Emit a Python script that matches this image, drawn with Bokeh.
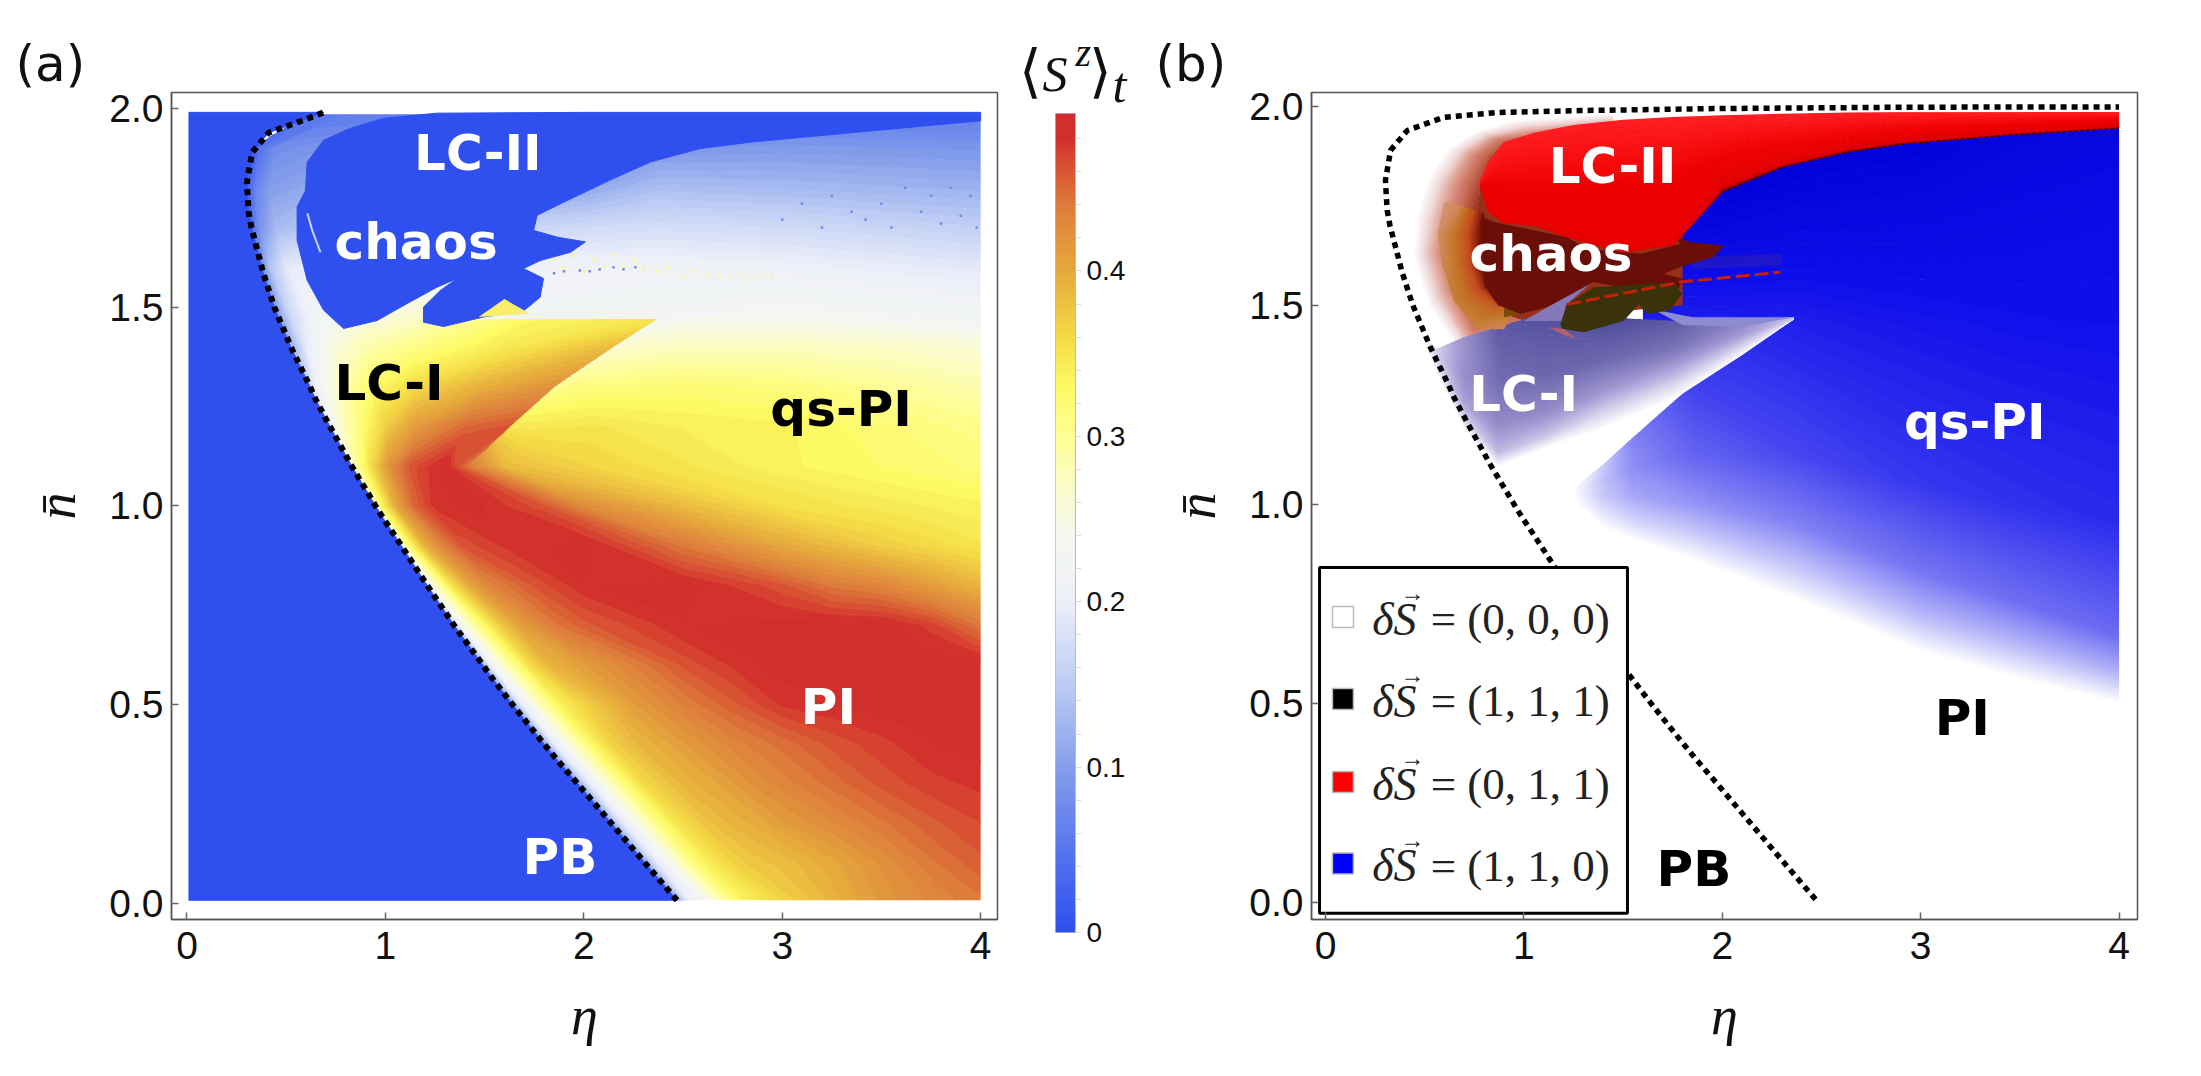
import numpy as np

from bokeh.embed import file_html
from bokeh.layouts import column, row
from bokeh.models import FixedTicker, Label, LinearAxis, LinearColorMapper, NumeralTickFormatter, Range1d
from bokeh.plotting import figure
from bokeh.resources import INLINE

eta_ticks = [0, 1, 2, 3, 4]
n_ticks = [0.0, 0.5, 1.0, 1.5, 2.0]
cbar_ticks = [0, 0.1, 0.2, 0.3, 0.4]
cbar_minor = [0.02, 0.04, 0.06, 0.08, 0.12, 0.14, 0.16, 0.18, 0.22, 0.24, 0.26, 0.28, 0.32, 0.34, 0.36, 0.38, 0.42, 0.44, 0.46, 0.48]

# dotted boundary of the PB phase
curve_n = [0.007, 0.1, 0.2, 0.3, 0.356, 0.4, 0.5, 0.567, 0.6, 0.7, 0.8, 0.8585, 0.9, 0.967, 1.0, 1.1, 1.2, 1.269, 1.3, 1.394, 1.5, 1.583, 1.7, 1.738, 1.813, 1.889, 1.939, 1.972]
curve_eta = [2.47, 2.31, 2.14, 1.97, 1.873, 1.8, 1.64, 1.537, 1.49, 1.345, 1.21, 1.134, 1.08, 0.991, 0.95, 0.83, 0.72, 0.647, 0.62, 0.529, 0.44, 0.386, 0.325, 0.311, 0.302, 0.328, 0.412, 0.596]
curve_top_eta = [0.865, 1.284, 1.956, 2.8, 3.4, 4.0]
curve_top_n = [1.984, 1.989, 1.994, 1.997, 1.998, 1.998]

# panel (a), PI and qs-PI region below n=1.1
pi_n = [0.007, 0.1, 0.2, 0.3, 0.4, 0.5, 0.6, 0.7, 0.8, 0.9, 1.0, 1.1]
pi_eta = [
    [2.47, 2.52, 2.60, 2.70, 2.80, 2.9, 3.0, 3.1, 3.25, 3.4, 3.6, 3.8, 4.0],
    [2.31, 2.36, 2.44, 2.54, 2.64, 2.75, 2.85, 2.95, 3.05, 3.25, 3.5, 3.75, 4.0],
    [2.14, 2.19, 2.27, 2.37, 2.47, 2.6, 2.75, 2.9, 3.0, 3.25, 3.5, 3.75, 4.0],
    [1.97, 2.02, 2.10, 2.20, 2.30, 2.5, 2.7, 2.85, 3.0, 3.25, 3.5, 3.75, 4.0],
    [1.80, 1.85, 1.93, 2.03, 2.13, 2.25, 2.5, 2.75, 3.0, 3.25, 3.5, 3.75, 4.0],
    [1.64, 1.69, 1.77, 1.87, 1.97, 2.25, 2.5, 2.75, 3.0, 3.25, 3.5, 3.75, 4.0],
    [1.49, 1.54, 1.62, 1.72, 1.82, 2.0, 2.5, 2.75, 3.0, 3.25, 3.5, 3.75, 4.0],
    [1.345, 1.39, 1.47, 1.57, 1.67, 1.85, 2.0, 2.5, 3.0, 3.25, 3.5, 3.75, 4.0],
    [1.21, 1.26, 1.33, 1.42, 1.52, 1.75, 2.0, 2.5, 3.0, 3.25, 3.5, 3.75, 4.0],
    [1.08, 1.12, 1.19, 1.28, 1.38, 1.6, 2.0, 2.5, 3.0, 3.25, 3.5, 3.75, 4.0],
    [0.95, 0.99, 1.05, 1.14, 1.24, 1.44, 1.8, 2.0, 2.5, 3.0, 3.5, 3.75, 4.0],
    [0.83, 0.87, 0.93, 1.02, 1.12, 1.3, 1.42, 1.6, 2.0, 2.5, 3.0, 3.5, 4.0],
]
pi_z = [
    [0.10, 0.19, 0.23, 0.29, 0.335, 0.35, 0.365, 0.375, 0.39, 0.405, 0.42, 0.43, 0.44],
    [0.10, 0.18, 0.24, 0.31, 0.345, 0.365, 0.375, 0.38, 0.385, 0.40, 0.42, 0.44, 0.455],
    [0.10, 0.18, 0.245, 0.31, 0.35, 0.375, 0.39, 0.40, 0.41, 0.425, 0.44, 0.455, 0.465],
    [0.10, 0.18, 0.25, 0.315, 0.36, 0.39, 0.405, 0.42, 0.43, 0.445, 0.46, 0.47, 0.475],
    [0.10, 0.19, 0.26, 0.325, 0.365, 0.385, 0.41, 0.43, 0.445, 0.46, 0.47, 0.48, 0.485],
    [0.10, 0.20, 0.27, 0.335, 0.36, 0.41, 0.435, 0.455, 0.475, 0.48, 0.485, 0.485, 0.485],
    [0.12, 0.22, 0.29, 0.355, 0.39, 0.41, 0.46, 0.475, 0.485, 0.485, 0.485, 0.485, 0.485],
    [0.15, 0.24, 0.31, 0.37, 0.405, 0.44, 0.455, 0.48, 0.485, 0.485, 0.485, 0.47, 0.44],
    [0.20, 0.28, 0.35, 0.40, 0.43, 0.46, 0.48, 0.485, 0.46, 0.44, 0.43, 0.41, 0.39],
    [0.25, 0.32, 0.39, 0.43, 0.46, 0.475, 0.485, 0.44, 0.40, 0.385, 0.37, 0.36, 0.35],
    [0.28, 0.34, 0.40, 0.45, 0.475, 0.485, 0.46, 0.425, 0.385, 0.355, 0.345, 0.34, 0.335],
    [0.27, 0.31, 0.36, 0.42, 0.46, 0.485, 0.44, 0.385, 0.365, 0.35, 0.335, 0.325, 0.315],
]

# panel (a), right of the wedge edge
qs_n = [1.1, 1.2, 1.3, 1.4, 1.47]
qs_eta = [
    [1.42, 1.6, 2.0, 2.5, 3.0, 3.5, 4.0],
    [1.63, 1.75, 2.05, 2.5, 3.0, 3.5, 4.0],
    [1.855, 1.93, 2.1, 2.5, 3.0, 3.5, 4.0],
    [2.15, 2.2, 2.3, 2.5, 3.0, 3.5, 4.0],
    [2.37, 2.42, 2.5, 2.7, 3.0, 3.5, 4.0],
]
qs_z = [
    [0.44, 0.385, 0.365, 0.35, 0.335, 0.325, 0.315],
    [0.345, 0.345, 0.35, 0.34, 0.335, 0.32, 0.305],
    [0.30, 0.31, 0.315, 0.32, 0.315, 0.30, 0.285],
    [0.26, 0.265, 0.27, 0.275, 0.275, 0.27, 0.26],
    [0.23, 0.235, 0.24, 0.24, 0.24, 0.235, 0.225],
]

# panel (a), LC-I wedge
lc1_n = [1.1, 1.2, 1.3, 1.4, 1.47]
lc1_eta = [
    [0.83, 0.87, 0.93, 1.02, 1.12, 1.3, 1.42],
    [0.72, 0.78, 0.88, 1.0, 1.15, 1.4, 1.63],
    [0.62, 0.68, 0.8, 0.95, 1.15, 1.5, 1.855],
    [0.53, 0.6, 0.72, 0.9, 1.15, 1.6, 2.15],
    [0.465, 0.53, 0.65, 0.85, 1.15, 1.7, 2.37],
]
lc1_z = [
    [0.27, 0.31, 0.36, 0.42, 0.46, 0.485, 0.44],
    [0.22, 0.27, 0.32, 0.37, 0.41, 0.45, 0.46],
    [0.17, 0.23, 0.29, 0.33, 0.36, 0.395, 0.42],
    [0.12, 0.19, 0.25, 0.285, 0.31, 0.345, 0.385],
    [0.10, 0.17, 0.22, 0.25, 0.27, 0.33, 0.35],
]

# panel (a), above the wedge
top_n = [1.47, 1.6, 1.7, 1.8, 1.9, 1.985]
top_eta = [
    [0.465, 0.53, 0.65, 0.85, 1.15, 1.7, 2.37, 3.0, 4.0],
    [0.365, 0.42, 0.5, 0.7, 1.3, 2.0, 2.37, 3.0, 4.0],
    [0.32, 0.37, 0.45, 0.65, 1.3, 2.0, 2.37, 3.0, 4.0],
    [0.30, 0.35, 0.42, 0.6, 1.3, 2.0, 2.37, 3.0, 4.0],
    [0.33, 0.37, 0.45, 0.65, 1.3, 2.0, 2.37, 3.0, 4.0],
    [0.6, 0.7, 0.8, 1.0, 1.3, 2.0, 2.37, 3.0, 4.0],
]
top_z = [
    [0.10, 0.17, 0.22, 0.25, 0.27, 0.22, 0.23, 0.24, 0.225],
    [0.06, 0.14, 0.19, 0.21, 0.21, 0.21, 0.21, 0.205, 0.19],
    [0.03, 0.09, 0.13, 0.15, 0.15, 0.17, 0.175, 0.17, 0.155],
    [0.02, 0.07, 0.10, 0.11, 0.11, 0.11, 0.135, 0.13, 0.12],
    [0.01, 0.05, 0.08, 0.09, 0.09, 0.09, 0.09, 0.095, 0.09],
    [0.06, 0.06, 0.06, 0.06, 0.06, 0.06, 0.06, 0.06, 0.06],
]

# panel (a), blue LC-II and chaos area
chaos_eta = [0.606, 0.689, 0.824, 0.99, 1.26, 2.0, 3.0, 4.0, 4.0, 2.84, 2.587, 2.335, 2.13, 1.916, 1.765, 1.747, 1.866, 2.008, 1.933, 1.78, 1.696, 1.797, 1.78, 1.696, 1.494, 1.293, 1.192, 1.192, 1.277, 1.362, 1.26, 1.11, 0.958, 0.789, 0.689, 0.606, 0.555, 0.555, 0.597]
chaos_n = [1.865, 1.92, 1.95, 1.975, 1.988, 1.99, 1.99, 1.99, 1.969, 1.915, 1.899, 1.865, 1.819, 1.768, 1.731, 1.693, 1.676, 1.664, 1.638, 1.617, 1.597, 1.572, 1.525, 1.49, 1.475, 1.451, 1.462, 1.5, 1.542, 1.572, 1.55, 1.509, 1.466, 1.446, 1.492, 1.567, 1.668, 1.752, 1.793]
yellow_tri_eta = [1.47, 1.6, 1.73]
yellow_tri_n = [1.475, 1.52, 1.483]
chaos_arc_eta = [0.607, 0.631, 0.673]
chaos_arc_n = [1.736, 1.693, 1.638]
speck_y_eta = [1.85, 1.9, 1.95, 2.0, 2.05, 2.1, 2.15, 2.2, 2.25, 2.3, 2.37, 2.42, 2.5, 2.55, 2.62, 2.68, 2.74, 2.78, 2.82, 2.86, 2.9, 2.95]
speck_y_n = [1.62, 1.6, 1.63, 1.59, 1.62, 1.6, 1.63, 1.6, 1.62, 1.6, 1.59, 1.6, 1.58, 1.59, 1.58, 1.58, 1.575, 1.58, 1.57, 1.575, 1.58, 1.58]
speck_b_eta = [1.85, 1.9, 1.98, 2.03, 2.08, 2.15, 2.2, 2.26, 3.0, 3.1, 3.2, 3.25, 3.35, 3.42, 3.5, 3.55, 3.62, 3.7, 3.75, 3.8, 3.85, 3.9, 3.95, 3.98]
speck_b_n = [1.585, 1.59, 1.592, 1.59, 1.595, 1.6, 1.595, 1.6, 1.72, 1.76, 1.7, 1.78, 1.74, 1.72, 1.76, 1.7, 1.8, 1.74, 1.78, 1.71, 1.8, 1.73, 1.78, 1.7]

# panel (b), blue weight columns
blue_eta = [1.25, 1.40, 1.55, 1.85, 2.37, 3.0, 3.5, 4.0]
blue_n = [
    [1.00, 1.01, 1.02, 1.03, 1.04],
    [0.94, 0.98, 1.02, 1.06, 1.10],
    [0.91, 0.96, 1.02, 1.09, 1.168],
    [0.86, 0.93, 1.0, 1.12, 1.30],
    [0.76, 0.85, 0.95, 1.12, 1.467],
    [0.63, 0.72, 0.83, 1.05, 1.467],
    [0.56, 0.65, 0.75, 1.0, 1.467],
    [0.50, 0.58, 0.67, 0.95, 1.467],
]
blue_w = [
    [0, 0, 0, 0, 0],
    [0, 0.12, 0.22, 0.25, 0.2],
    [0, 0.18, 0.35, 0.45, 0.5],
    [0, 0.22, 0.42, 0.62, 0.78],
    [0, 0.25, 0.5, 0.75, 0.93],
    [0, 0.28, 0.55, 0.82, 0.97],
    [0, 0.3, 0.58, 0.85, 0.99],
    [0, 0.32, 0.6, 0.87, 1.0],
]
blue2_eta = [1.6, 1.75, 2.0, 2.37, 3.0, 3.5, 4.0]
blue2_n = [
    [1.46, 1.5, 1.55],
    [1.46, 1.6, 1.72],
    [1.46, 1.62, 1.79],
    [1.46, 1.65, 1.87],
    [1.46, 1.7, 1.93],
    [1.46, 1.7, 1.95],
    [1.46, 1.7, 1.96],
]
blue2_w = [
    [0.93, 1.0, 1.05],
    [0.93, 1.03, 1.15],
    [0.93, 1.05, 1.18],
    [0.93, 1.05, 1.18],
    [0.97, 1.07, 1.17],
    [0.99, 1.05, 1.12],
    [1.0, 1.03, 1.1],
]

# panel (b), LC-I gradient columns
lc1b_eta = [0.5, 0.56, 0.7, 0.87, 1.1, 1.4, 1.772, 2.1, 2.36]
lc1b_n = [
    [1.40, 1.405, 1.41, 1.415, 1.42],
    [1.33, 1.34, 1.36, 1.38, 1.39],
    [1.19, 1.21, 1.26, 1.32, 1.42],
    [1.095, 1.13, 1.2, 1.3, 1.445],
    [1.14, 1.17, 1.23, 1.32, 1.48],
    [1.19, 1.23, 1.29, 1.36, 1.47],
    [1.269, 1.30, 1.34, 1.39, 1.46],
    [1.375, 1.39, 1.41, 1.43, 1.46],
    [1.466, 1.466, 1.467, 1.468, 1.47],
]
lc1b_w = [
    [0, 0, 0, 0, 0],
    [0, 0.08, 0.2, 0.25, 0.25],
    [0, 0.2, 0.5, 0.62, 0.6],
    [0, 0.35, 0.65, 0.85, 1.0],
    [0, 0.3, 0.65, 0.9, 1.05],
    [0, 0.22, 0.6, 0.9, 1.1],
    [0, 0.18, 0.45, 0.8, 1.0],
    [0, 0.15, 0.35, 0.55, 0.7],
    [0, 0.1, 0.2, 0.3, 0.3],
]

# panel (b), red LC-II columns
red_eta = [0.78, 0.82, 0.9, 1.05, 1.25, 1.5, 1.75, 2.0, 2.3, 2.63, 2.9, 3.5, 4.0]
red_n = [
    [1.80, 1.80, 1.80, 1.81],
    [1.735, 1.75, 1.80, 1.86],
    [1.705, 1.72, 1.79, 1.91],
    [1.70, 1.71, 1.79, 1.933],
    [1.665, 1.69, 1.79, 1.953],
    [1.632, 1.66, 1.80, 1.966],
    [1.65, 1.67, 1.82, 1.973],
    [1.785, 1.80, 1.87, 1.977],
    [1.847, 1.855, 1.90, 1.981],
    [1.885, 1.893, 1.925, 1.984],
    [1.905, 1.912, 1.94, 1.985],
    [1.93, 1.935, 1.955, 1.985],
    [1.945, 1.95, 1.965, 1.985],
]
red_w = [
    [0.6, 0.6, 0.7, 0.9],
    [0.6, 0.65, 0.7, 1.0],
    [0.6, 0.65, 0.7, 1.0],
    [0.6, 0.65, 0.7, 1.0],
    [0.55, 0.65, 0.7, 1.0],
    [0.55, 0.65, 0.7, 1.0],
    [0.55, 0.65, 0.7, 1.0],
    [0.1, 0.5, 0.7, 1.0],
    [0.1, 0.5, 0.7, 1.0],
    [0.1, 0.5, 0.7, 1.0],
    [0.1, 0.5, 0.7, 1.0],
    [0.1, 0.5, 0.7, 1.0],
    [0.1, 0.5, 0.7, 1.0],
]
red_edge_eta = [2.0, 2.3, 2.63, 2.9, 3.5, 4.0]
red_edge_n = [1.785, 1.847, 1.885, 1.905, 1.93, 1.945]

# panel (b), pale halo between curve and chaos, outer to inner per station
halo_eta = [
    [0.98, 0.98, 0.98, 0.98, 0.98],
    [0.70, 0.73, 0.755, 0.778, 0.80],
    [0.52, 0.58, 0.63, 0.676, 0.72],
    [0.445, 0.52, 0.585, 0.644, 0.70],
    [0.46, 0.55, 0.625, 0.694, 0.76],
    [0.51, 0.59, 0.66, 0.72, 0.78],
    [0.61, 0.676, 0.73, 0.78, 0.83],
    [0.75, 0.795, 0.83, 0.867, 0.90],
    [0.95, 0.98, 1.005, 1.028, 1.05],
    [1.45, 1.45, 1.45, 1.45, 1.45],
]
halo_n = [
    [1.38, 1.416, 1.446, 1.474, 1.50],
    [1.37, 1.409, 1.44, 1.47, 1.50],
    [1.50, 1.524, 1.544, 1.562, 1.58],
    [1.62, 1.629, 1.637, 1.643, 1.65],
    [1.72, 1.72, 1.72, 1.72, 1.72],
    [1.81, 1.807, 1.805, 1.802, 1.80],
    [1.89, 1.884, 1.879, 1.874, 1.87],
    [1.935, 1.928, 1.921, 1.916, 1.91],
    [1.965, 1.954, 1.945, 1.937, 1.93],
    [1.98, 1.975, 1.97, 1.965, 1.96],
]
halo_w = [
    [0, 0.4, 0.6, 0.75, 0.85],
    [0, 0.45, 0.7, 0.85, 1.0],
    [0, 0.35, 0.6, 0.8, 1.0],
    [0, 0.35, 0.6, 0.8, 1.0],
    [0, 0.35, 0.6, 0.8, 1.0],
    [0, 0.3, 0.55, 0.75, 0.9],
    [0, 0.25, 0.5, 0.7, 0.85],
    [0, 0.2, 0.4, 0.6, 0.75],
    [0, 0.15, 0.3, 0.45, 0.6],
    [0, 0.1, 0.2, 0.3, 0.4],
]

# panel (b), orange arcs left of the dark chaos area
arc_eta = [
    [0.60, 0.68, 0.74, 0.80],
    [0.565, 0.65, 0.72, 0.79],
    [0.59, 0.66, 0.73, 0.79],
    [0.65, 0.71, 0.77, 0.83],
    [0.76, 0.80, 0.85, 0.90],
    [0.90, 0.93, 0.96, 1.0],
]
arc_n = [
    [1.76, 1.75, 1.74, 1.73],
    [1.68, 1.68, 1.68, 1.68],
    [1.60, 1.60, 1.60, 1.60],
    [1.51, 1.525, 1.54, 1.55],
    [1.44, 1.47, 1.50, 1.51],
    [1.44, 1.47, 1.49, 1.50],
]
arc_w = [
    [0, 0.5, 1.8, 3],
    [0.2, 1, 2, 3],
    [0.5, 1, 2, 3],
    [0.8, 1.2, 2, 3],
    [0.6, 1, 1.6, 2.8],
    [0.4, 0.8, 1.4, 2.5],
]

core_eta = [0.72, 0.70, 0.76, 0.78, 0.83, 0.90, 1.05, 1.45, 1.8, 1.8, 1.0, 0.8]
core_n = [1.58, 1.65, 1.72, 1.80, 1.87, 1.91, 1.93, 1.96, 1.8, 1.5, 1.46, 1.5]
dark_eta = [0.80, 0.848, 1.218, 1.319, 1.587, 1.789, 1.755, 1.84, 2.007, 1.957, 1.789, 1.705, 1.806, 1.755, 1.352, 1.117, 0.983, 0.87, 0.80, 0.79, 0.78]
dark_n = [1.72, 1.709, 1.671, 1.642, 1.629, 1.654, 1.675, 1.658, 1.65, 1.621, 1.596, 1.579, 1.566, 1.52, 1.558, 1.495, 1.478, 1.5, 1.55, 1.64, 1.71]
brown_eta = [0.9, 1.0, 1.117, 1.0, 0.9]
brown_n = [1.47, 1.48, 1.495, 1.52, 1.51]
olive_eta = [1.184, 1.218, 1.352, 1.755, 1.797, 1.739, 1.621, 1.579, 1.503, 1.302, 1.193]
olive_n = [1.453, 1.503, 1.545, 1.558, 1.529, 1.487, 1.478, 1.502, 1.461, 1.432, 1.441]
lav_eta = [1.0, 1.2, 1.21, 1.35, 1.117]
lav_n = [1.46, 1.46, 1.50, 1.56, 1.495]
spot_eta = [1.12, 1.2, 1.27, 1.2]
spot_n = [1.445, 1.44, 1.415, 1.425]
streak_eta = [1.65, 1.85, 2.36, 2.1, 1.8]
streak_n = [1.49, 1.47, 1.47, 1.445, 1.45]
mist_eta = [1.82, 2.3, 2.3, 1.85]
mist_n = [1.62, 1.63, 1.60, 1.59]
redline_eta = [1.218, 1.789, 2.293]
redline_n = [1.502, 1.558, 1.583]

legend_vals = ["= (0, 0, 0)", "= (1, 1, 1)", "= (0, 1, 1)", "= (1, 1, 0)"]
legend_cols = ["#FFFFFF", "#000000", "#FF0000", "#0000FF"]
legend_y = [0.7166, 0.5105, 0.302, 0.097]

labels_a = [("LC-II", 1.466, 1.888, "white"), ("chaos", 1.155, 1.664, "white"), ("LC-I", 1.018, 1.31, "black"),
            ("qs-PI", 3.297, 1.244, "black"), ("PI", 3.233, 0.494, "white"), ("PB", 1.88, 0.117, "white")]
labels_b = [("LC-II", 1.447, 1.85, "white"), ("chaos", 1.137, 1.629, "white"), ("LC-I", 0.999, 1.278, "white"),
            ("qs-PI", 3.273, 1.207, "white"), ("PI", 3.21, 0.462, "black"), ("PB", 1.857, 0.083, "black")]

BLUE = "#2F50EF"
sz_stops = [(0, (47, 80, 240)), (0.05, (88, 118, 238)), (0.1, (135, 160, 235)), (0.15, (190, 205, 245)), (0.2, (238, 240, 250)),
            (0.24, (245, 248, 240)), (0.27, (252, 252, 200)), (0.3, (255, 255, 150)), (0.33, (253, 250, 100)), (0.36, (245, 220, 70)),
            (0.4, (230, 170, 60)), (0.44, (222, 125, 60)), (0.47, (215, 70, 48)), (0.48, (211, 48, 44)), (0.495, (210, 45, 45))]
blue_stops = [(0, (255, 255, 255)), (0.5, (130, 130, 245)), (0.8, (60, 60, 240)), (1.0, (15, 15, 235)), (1.2, (0, 0, 215))]
lc1_stops = [(0, (255, 255, 255)), (0.5, (170, 160, 215)), (1.0, (95, 90, 165)), (1.1, (70, 70, 150))]
red_stops = [(0, (110, 0, 0)), (0.5, (225, 0, 0)), (0.7, (240, 0, 0)), (1.0, (255, 30, 35))]
halo_stops = [(0, (255, 255, 255)), (0.25, (240, 215, 215)), (0.5, (222, 155, 140)), (0.75, (200, 105, 85)), (1.0, (150, 45, 25))]
arc_stops = [(0, (215, 150, 120)), (1, (195, 120, 40)), (2, (200, 75, 30)), (3, (106, 15, 8))]


def make_palette(stops, count):
    pos = [s[0] for s in stops]
    vals = np.linspace(pos[0], pos[-1], count)
    chans = [np.interp(vals, pos, [s[1][i] for s in stops]) for i in range(3)]
    return ["#%02X%02X%02X" % (int(r), int(g), int(b)) for r, g, b in zip(*chans)]


def add_field(p, x, y, z, stops, count=64):
    z = np.array(z, dtype=float)
    lo, hi = stops[0][0], stops[-1][0]
    levels = np.linspace(lo - 0.001, hi + 0.001, count + 1)
    fills = make_palette(stops, count)
    lines = make_palette(stops, count + 1)
    p.contour(np.array(x, dtype=float), np.array(y, dtype=float), z, levels,
              fill_color=fills, line_color=lines, line_width=1.2)


def rows_mesh(etas, ns):
    x = np.array(etas, dtype=float)
    y = np.repeat(np.array(ns, dtype=float)[:, None], x.shape[1], axis=1)
    return x, y


def cols_mesh(etas, ns):
    y = np.array(ns, dtype=float)
    x = np.repeat(np.array(etas, dtype=float)[:, None], y.shape[1], axis=1)
    return x, y


def add_text(p, x, y, text, size, color="black", font="DejaVu Sans", style="normal", align="center", base="middle"):
    p.add_layout(Label(x=x, y=y, text=text, text_font=font, text_font_size="%gpx" % size, text_color=color,
                       text_font_style=style, text_align=align, text_baseline=base))


def panel(title, x_range, y_range, top, bottom, left, right):
    p = figure(title=title, width=left + 826 + right, height=top + 827 + bottom, frame_width=826, frame_height=827,
               x_range=Range1d(*x_range), y_range=Range1d(*y_range), min_border_top=top, min_border_bottom=bottom,
               min_border_left=left, min_border_right=right, frame_align=False, output_backend="svg", toolbar_location=None)
    p.title.text_font = "DejaVu Sans"
    p.title.text_font_size = "50px"
    p.title.text_font_style = "normal"
    p.title.text_color = "#111111"
    p.title.offset = -156
    p.title.standoff = 0
    p.grid.visible = False
    p.outline_line_color = "#555555"
    p.outline_line_width = 1.5
    for ax in (p.xaxis[0], p.yaxis[0]):
        ax.axis_line_color = "#555555"
        ax.axis_line_width = 1.5
        ax.major_tick_line_color = "#666666"
        ax.major_tick_line_width = 1.5
        ax.major_tick_in = 7
        ax.major_tick_out = 0
        ax.minor_tick_in = 0
        ax.minor_tick_out = 0
        ax.major_label_text_font = "Liberation Sans"
        ax.major_label_text_font_size = "39px"
        ax.major_label_text_color = "#111111"
        ax.axis_label_text_font = "Liberation Serif"
        ax.axis_label_text_font_style = "italic"
        ax.axis_label_text_font_size = "54px"
        ax.axis_label_text_color = "#111111"
    p.xaxis.ticker = FixedTicker(ticks=eta_ticks)
    p.yaxis.ticker = FixedTicker(ticks=n_ticks)
    p.yaxis.formatter = NumeralTickFormatter(format="0.0")
    p.xaxis.major_label_standoff = 12
    p.yaxis.major_label_standoff = 8
    p.xaxis.axis_label = "η"
    p.yaxis.axis_label = "n\u0304"
    p.xaxis.axis_label_standoff = 24
    p.yaxis.axis_label_standoff = 19
    return p


# panel (a)
pa = panel("(a)", (-0.078, 4.085), (-0.0413, 2.040), 92, 141, 171, 18)
add_field(pa, *rows_mesh(pi_eta, pi_n), pi_z, sz_stops)
add_field(pa, *rows_mesh(qs_eta, qs_n), qs_z, sz_stops)
add_field(pa, *rows_mesh(top_eta, top_n), top_z, sz_stops)
add_field(pa, *rows_mesh(lc1_eta, lc1_n), lc1_z, sz_stops)
pb_eta = curve_eta + [0.69, 0.01, 0.01]
pb_n = curve_n + [1.99, 1.99, 0.007]
pa.patch(pb_eta, pb_n, fill_color=BLUE, line_color=BLUE, line_width=1)
pa.patch(chaos_eta, chaos_n, fill_color=BLUE, line_color=BLUE, line_width=1)
pa.patch(yellow_tri_eta, yellow_tri_n, fill_color="#F7EE6A", line_color=None)
pa.line(chaos_arc_eta, chaos_arc_n, line_color="#C9D4F8", line_width=2)
pa.scatter(speck_y_eta, speck_y_n, marker="square", size=3, fill_color="#FBF59A", line_color=None)
pa.scatter(speck_b_eta, speck_b_n, marker="square", size=2.5, fill_color="#6F8AEE", line_color=None)
pa.line(curve_eta + [0.69], curve_n + [1.99], line_color="black", line_width=6, line_dash="6 5")
for text, x, y, col in labels_a:
    add_text(pa, x, y, text, 50, col, style="bold")

# colour bar
cb = figure(width=130, height=948, frame_width=20, frame_height=819, x_range=Range1d(0, 1), y_range=Range1d(0, 0.4952),
            min_border_top=1, min_border_bottom=128, min_border_left=40, min_border_right=70, frame_align=False,
            output_backend="svg", toolbar_location=None)
cb.grid.visible = False
cb.outline_line_color = "#BBBBBB"
cb.xaxis.visible = False
cb.yaxis.visible = False
cb.image(image=[np.linspace(0, 0.495, 256)[:, None]], x=0, y=0, dw=1, dh=0.4952,
         color_mapper=LinearColorMapper(palette=make_palette(sz_stops, 256), low=0, high=0.495))
cb_axis = LinearAxis(ticker=FixedTicker(ticks=cbar_ticks, minor_ticks=cbar_minor))
cb_axis.major_label_overrides = {0: "0", 0.1: "0.1", 0.2: "0.2", 0.3: "0.3", 0.4: "0.4"}
cb_axis.axis_line_color = "#BBBBBB"
cb_axis.major_tick_line_color = "#DDDDDD"
cb_axis.minor_tick_line_color = "#DDDDDD"
cb_axis.major_tick_in = 0
cb_axis.major_tick_out = 6
cb_axis.minor_tick_in = 0
cb_axis.minor_tick_out = 6
cb_axis.major_label_standoff = 5
cb_axis.major_label_text_font = "Liberation Sans"
cb_axis.major_label_text_font_size = "28px"
cb_axis.major_label_text_color = "#111111"
cb.add_layout(cb_axis, "right")

cb_title = figure(width=130, height=112, x_range=Range1d(1015, 1145), y_range=Range1d(0, 112), x_axis_type=None, y_axis_type=None,
                  min_border=0, frame_align=False, output_backend="svg", toolbar_location=None)
cb_title.grid.visible = False
cb_title.outline_line_color = None
add_text(cb_title, 1018, 41, "⟨", 58, "#111111", "Liberation Serif", align="left")
add_text(cb_title, 1042, 39, "S", 50, "#111111", "Liberation Serif", "italic", "left")
add_text(cb_title, 1075, 60, "z", 40, "#111111", "Liberation Serif", "italic", "left")
add_text(cb_title, 1088, 41, "⟩", 58, "#111111", "Liberation Serif", align="left")
add_text(cb_title, 1112, 28, "t", 50, "#111111", "Liberation Serif", "italic", "left")

# panel (b)
pc = panel("(b)", (-0.0706, 4.093), (-0.0435, 2.0344), 92, 141, 166, 10)
add_field(pc, *cols_mesh(blue_eta, blue_n), blue_w, blue_stops)
add_field(pc, *cols_mesh(blue2_eta, blue2_n), blue2_w, blue_stops)
add_field(pc, halo_eta, halo_n, halo_w, halo_stops)
pc.patch(core_eta, core_n, fill_color="#96301A", line_color=None)
add_field(pc, *cols_mesh(lc1b_eta, lc1b_n), lc1b_w, lc1_stops)
pc.patch(lav_eta, lav_n, fill_color="#8478B8", line_color=None)
pc.patch(streak_eta, streak_n, fill_color="#8C8CD2", line_color=None)
pc.patch(mist_eta, mist_n, fill_color="#3020B0", fill_alpha=0.5, line_color=None)
add_field(pc, arc_eta, arc_n, arc_w, arc_stops)
pc.patch(brown_eta, brown_n, fill_color="#7A4A0C", line_color=None)
pc.patch(dark_eta, dark_n, fill_color="#6A0F08", line_color=None)
pc.patch(olive_eta, olive_n, fill_color="#3A3208", line_color=None)
pc.patch(spot_eta, spot_n, fill_color="#B06070", line_color=None)
add_field(pc, *cols_mesh(red_eta, red_n), red_w, red_stops)
pc.line(red_edge_eta, red_edge_n, line_color="#400000", line_width=1.5, line_dash="3 3")
pc.line(redline_eta, redline_n, line_color="#C81E0A", line_width=3, line_dash="14 5")
pc.line(curve_eta + curve_top_eta, curve_n + curve_top_n, line_color="black", line_width=5.5, line_dash="6 5")
pc.quad(left=[-0.03], right=[1.522], top=[0.841], bottom=[-0.028], fill_color="white", line_color="black", line_width=3)
pc.scatter([0.088] * 4, legend_y, marker="square", size=21, fill_color=legend_cols, line_color="#BBBBBB", line_width=1.5)
for val, y in zip(legend_vals, legend_y):
    add_text(pc, 0.235, y - 0.006, "δS", 46, "#222222", "Liberation Serif", "italic", "left")
    add_text(pc, 0.4385, y + 0.06, "→", 24, "#222222", "Liberation Serif")
    add_text(pc, 0.53, y - 0.006, val, 45, "#222222", "Liberation Serif", align="left")
for text, x, y, col in labels_b:
    add_text(pc, x, y, text, 50, col, style="bold")

layout = row(pa, column(cb_title, cb), pc)
open("out.html", "w").write(file_html(layout, INLINE))
